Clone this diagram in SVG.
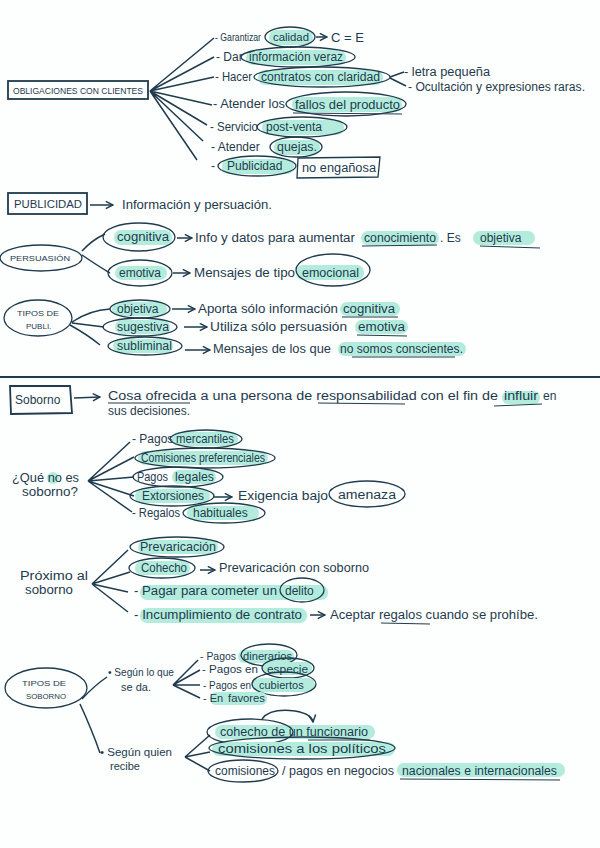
<svg xmlns="http://www.w3.org/2000/svg" width="600" height="848" viewBox="0 0 600 848">
<defs>
<style>
.t{font-family:"Liberation Sans","DejaVu Sans",sans-serif;font-size:12px;fill:#1f3b4d}
.s{font-size:8.5px}
.m{font-size:11px}
.hl{fill:#b3ecdd}
.ov{fill:none;stroke:#1f3b4d;stroke-width:1.3}
.bx{fill:none;stroke:#1f3b4d;stroke-width:1.8}
.ln{fill:none;stroke:#1f3b4d;stroke-width:1.5}
.ul{fill:none;stroke:#1f3b4d;stroke-width:1}
</style>
<marker id="ar" viewBox="0 0 10 10" refX="9" refY="5" markerWidth="6" markerHeight="6" orient="auto">
<path d="M1,1 L9,5 L1,9" fill="none" stroke="#1f3b4d" stroke-width="1.6"/>
</marker>
</defs>
<rect width="600" height="848" fill="#fdfefe"/>

<g id="connectors">
<path class="ln" d="M150,91 L214,38 M150,91 L214,57 M150,91 L214,77 M150,91 L212,105 M150,91 L207,125 M150,91 L203,141 M150,91 L197,160"/>
<path class="ln" d="M316,37 L327,37" marker-end="url(#ar)"/>
<path class="ln" d="M390,77 L404,72 M390,78 L406,86"/>
<path class="ln" d="M90,205 L113,205" marker-end="url(#ar)"/>
<path class="ln" d="M82,251 Q92,240 105,234 M82,255 Q98,266 110,273"/>
<path class="ln" d="M177,238 L192,238" marker-end="url(#ar)"/>
<path class="ln" d="M173,273 L190,273" marker-end="url(#ar)"/>
<path class="ln" d="M72,322 Q90,310 110,309 M72,323 L104,327 M70,325 Q88,335 100,345"/>
<path class="ln" d="M172,309 L195,309" marker-end="url(#ar)"/>
<path class="ln" d="M184,327 L207,327" marker-end="url(#ar)"/>
<path class="ln" d="M185,350 L210,350" marker-end="url(#ar)"/>
<path class="ln" d="M74,398 L100,397" marker-end="url(#ar)"/>
<path class="ln" d="M88,481 L130,442 M88,481 L134,457 M88,481 L134,477 M88,481 L134,496 M88,481 L132,512"/>
<path class="ln" d="M214,497 L232,497" marker-end="url(#ar)"/>
<path class="ln" d="M92,584 L128,550 M92,584 L130,572 M92,584 L128,592 M92,584 L128,612"/>
<path class="ln" d="M200,570 L215,570" marker-end="url(#ar)"/>
<path class="ln" d="M310,615 L325,615" marker-end="url(#ar)"/>
<path class="ln" d="M82,699 Q95,685 107,677 M80,704 Q92,730 100,753"/>
<path class="ln" d="M173,685 L198,660 M173,685 L200,670 M173,685 L200,685 M173,685 L200,698"/>
<path class="ln" d="M185,757 L210,735 M185,757 L210,752 M185,757 L210,771"/>
<path class="ln" d="M262,719 Q270,708 295,711 Q312,714 313,722" marker-end="url(#ar)"/>
</g>

<g id="obligaciones">
<rect class="bx" x="8" y="81" width="140" height="18"/>
<text class="t s" x="13" y="94" textLength="130" lengthAdjust="spacingAndGlyphs">OBLIGACIONES CON CLIENTES</text>
</g>

<g id="garantizar">
<text class="t m" x="215" y="41" textLength="46" lengthAdjust="spacingAndGlyphs">- Garantizar</text>
<rect class="hl" x="269" y="30" width="44" height="15" rx="7"/>
<ellipse class="ov" cx="290" cy="37" rx="25" ry="10"/>
<text class="t m" x="273" y="41" textLength="36" lengthAdjust="spacingAndGlyphs">calidad</text>
<text class="t" x="331" y="42" style="font-size:13px">C = E</text>
</g>

<g id="dar">
<text class="t" x="216" y="61">- Dar</text>
<rect class="hl" x="246" y="50" width="100" height="15" rx="7"/>
<ellipse class="ov" cx="298" cy="57" rx="57" ry="10"/>
<text class="t" x="249" y="61" textLength="94" lengthAdjust="spacingAndGlyphs">información veraz</text>
</g>

<g id="hacer">
<text class="t" x="215" y="81" textLength="37" lengthAdjust="spacingAndGlyphs">- Hacer</text>
<rect class="hl" x="258" y="70" width="125" height="15" rx="7"/>
<ellipse class="ov" cx="322" cy="77" rx="68" ry="10"/>
<text class="t" x="261" y="81" textLength="119" lengthAdjust="spacingAndGlyphs">contratos con claridad</text>
<text class="t" x="404" y="76" textLength="86" lengthAdjust="spacingAndGlyphs">- letra pequeña</text>
<text class="t" x="408" y="91" textLength="177" lengthAdjust="spacingAndGlyphs">- Ocultación y expresiones raras.</text>
</g>

<g id="atender-fallos">
<text class="t" x="213" y="108" textLength="72" lengthAdjust="spacingAndGlyphs">- Atender los</text>
<rect class="hl" x="292" y="97" width="110" height="15" rx="7"/>
<ellipse class="ov" cx="346" cy="104" rx="60" ry="12"/>
<text class="t" x="295" y="109" textLength="105" lengthAdjust="spacingAndGlyphs">fallos del producto</text>
<path class="ul" d="M293,113 L402,114"/>
</g>

<g id="servicio">
<text class="t" x="210" y="131" textLength="48" lengthAdjust="spacingAndGlyphs">- Servicio</text>
<rect class="hl" x="262" y="120" width="82" height="15" rx="7"/>
<ellipse class="ov" cx="302" cy="127" rx="45" ry="10"/>
<text class="t" x="266" y="131">post-venta</text>
</g>

<g id="quejas">
<text class="t" x="211" y="151">- Atender</text>
<rect class="hl" x="274" y="140" width="46" height="15" rx="7"/>
<ellipse class="ov" cx="296" cy="147" rx="26" ry="10"/>
<text class="t" x="277" y="151" textLength="40" lengthAdjust="spacingAndGlyphs">quejas.</text>
</g>

<g id="publicidad-row">
<text class="t" x="211" y="170">-</text>
<rect class="hl" x="222" y="159" width="72" height="15" rx="7"/>
<ellipse class="ov" cx="257" cy="166" rx="39" ry="10"/>
<text class="t" x="227" y="170">Publicidad</text>
<path class="bx" style="stroke-width:1.3" d="M298,158 L380,157 L378,177 L297,178 Z"/>
<text class="t" x="302" y="172" textLength="74" lengthAdjust="spacingAndGlyphs">no engañosa</text>
</g>

<g id="publicidad">
<rect class="bx" x="8" y="193" width="79" height="21"/>
<text class="t" x="14" y="208" style="font-size:10px" textLength="68" lengthAdjust="spacingAndGlyphs">PUBLICIDAD</text>
<text class="t" x="122" y="209" textLength="150" lengthAdjust="spacingAndGlyphs">Información y persuación.</text>
</g>

<g id="persuasion">
<ellipse class="ov" cx="41" cy="258" rx="41" ry="13"/>
<text class="t" x="10" y="261" style="font-size:8px" textLength="60" lengthAdjust="spacingAndGlyphs">PERSUASIÓN</text>
</g>

<g id="cognitiva">
<rect class="hl" x="114" y="230" width="58" height="15" rx="7"/>
<ellipse class="ov" cx="139" cy="237" rx="36" ry="14"/>
<text class="t" x="117" y="241" textLength="52" lengthAdjust="spacingAndGlyphs">cognitiva</text>
<text class="t" x="195" y="242" textLength="160" lengthAdjust="spacingAndGlyphs">Info y datos para aumentar</text>
<rect class="hl" x="361" y="231" width="78" height="14" rx="7"/>
<text class="t" x="364" y="242" textLength="72" lengthAdjust="spacingAndGlyphs">conocimiento</text>
<path class="ul" d="M362,246 L437,245"/>
<text class="t" x="440" y="242">. Es</text>
<rect class="hl" x="473" y="231" width="62" height="14" rx="7"/>
<text class="t" x="480" y="242">objetiva</text>
<path class="ul" d="M480,246 L540,248"/>
</g>

<g id="emotiva">
<rect class="hl" x="115" y="266" width="52" height="14" rx="7"/>
<ellipse class="ov" cx="140" cy="273" rx="32" ry="13"/>
<text class="t" x="119" y="277">emotiva</text>
<text class="t" x="194" y="277" textLength="101" lengthAdjust="spacingAndGlyphs">Mensajes de tipo</text>
<rect class="hl" x="296" y="265" width="68" height="15" rx="7"/>
<ellipse class="ov" cx="333" cy="270" rx="37" ry="16"/>
<text class="t" x="302" y="277" textLength="57" lengthAdjust="spacingAndGlyphs">emocional</text>
</g>

<g id="tipos-publi">
<ellipse class="ov" cx="38" cy="318" rx="34" ry="18"/>
<text class="t" x="17" y="316" style="font-size:8px" textLength="42" lengthAdjust="spacingAndGlyphs">TIPOS DE</text>
<text class="t" x="26" y="329" style="font-size:8px">PUBLI.</text>
</g>

<g id="objetiva">
<rect class="hl" x="112" y="302" width="55" height="14" rx="7"/>
<ellipse class="ov" cx="140" cy="309" rx="30" ry="9"/>
<text class="t" x="117" y="313">objetiva</text>
<text class="t" x="198" y="313" textLength="140" lengthAdjust="spacingAndGlyphs">Aporta sólo información</text>
<rect class="hl" x="340" y="302" width="60" height="14" rx="7"/>
<text class="t" x="343" y="313" textLength="52" lengthAdjust="spacingAndGlyphs">cognitiva</text>
<path class="ul" d="M342,317 L398,317"/>
</g>

<g id="sugestiva">
<rect class="hl" x="115" y="320" width="55" height="14" rx="7"/>
<ellipse class="ov" cx="140" cy="327" rx="37" ry="9"/>
<text class="t" x="117" y="331" textLength="52" lengthAdjust="spacingAndGlyphs">sugestiva</text>
<text class="t" x="210" y="331" textLength="137" lengthAdjust="spacingAndGlyphs">Utiliza sólo persuasión</text>
<rect class="hl" x="355" y="320" width="53" height="14" rx="7"/>
<text class="t" x="358" y="331" textLength="47" lengthAdjust="spacingAndGlyphs">emotiva</text>
<path class="ul" d="M357,335 L407,336"/>
</g>

<g id="subliminal">
<rect class="hl" x="113" y="339" width="60" height="14" rx="7"/>
<ellipse class="ov" cx="145" cy="346" rx="37" ry="9"/>
<text class="t" x="117" y="350" textLength="55" lengthAdjust="spacingAndGlyphs">subliminal</text>
<text class="t" x="213" y="353" textLength="118" lengthAdjust="spacingAndGlyphs">Mensajes de los que</text>
<rect class="hl" x="338" y="342" width="128" height="14" rx="7"/>
<text class="t" x="340" y="353" textLength="123" lengthAdjust="spacingAndGlyphs">no somos conscientes.</text>
<path class="ul" d="M352,357 L455,357"/>
</g>

<path d="M0,377 L600,377" stroke="#1f3b4d" stroke-width="2"/>

<g id="soborno">
<path class="bx" d="M10,386 L70,386 L72,413 L11,414 Z"/>
<text class="t" x="15" y="404">Soborno</text>
<text class="t" x="108" y="400" textLength="390" lengthAdjust="spacingAndGlyphs">Cosa ofrecida a una persona de responsabilidad con el fin de</text>
<path class="ul" d="M108,403 L190,403 M318,403 L405,404"/>
<rect class="hl" x="502" y="391" width="38" height="13" rx="6"/>
<text class="t" x="504" y="400" textLength="34" lengthAdjust="spacingAndGlyphs">influir</text>
<path class="ul" d="M494,406 L542,404"/>
<text class="t" x="543" y="400">en</text>
<text class="t" x="108" y="415" textLength="82" lengthAdjust="spacingAndGlyphs">sus decisiones.</text>
</g>

<g id="que-no-es">
<circle class="hl" cx="53" cy="478" r="6"/>
<text class="t" x="12" y="482" textLength="67" lengthAdjust="spacingAndGlyphs">¿Qué no es</text>
<text class="t" x="22" y="496" textLength="56" lengthAdjust="spacingAndGlyphs">soborno?</text>
</g>

<g id="mercantiles">
<text class="t" x="132" y="443">- Pagos</text>
<rect class="hl" x="172" y="432" width="66" height="14" rx="7"/>
<ellipse class="ov" cx="206" cy="439" rx="36" ry="9"/>
<text class="t" x="176" y="443" textLength="58" lengthAdjust="spacingAndGlyphs">mercantiles</text>
</g>

<g id="comisiones-pref">
<rect class="hl" x="138" y="451" width="130" height="14" rx="7"/>
<ellipse class="ov" cx="205" cy="458" rx="70" ry="10"/>
<text class="t" x="141" y="462" textLength="124" lengthAdjust="spacingAndGlyphs">Comisiones preferenciales</text>
</g>

<g id="pagos-legales">
<rect class="hl" x="172" y="470" width="44" height="14" rx="7"/>
<ellipse class="ov" cx="178" cy="477" rx="45" ry="10"/>
<text class="t" x="137" y="481" textLength="31" lengthAdjust="spacingAndGlyphs">Pagos</text>
<text class="t" x="175" y="481" textLength="39" lengthAdjust="spacingAndGlyphs">legales</text>
</g>

<g id="extorsiones">
<rect class="hl" x="135" y="489" width="75" height="14" rx="7"/>
<ellipse class="ov" cx="172" cy="496" rx="42" ry="10"/>
<text class="t" x="142" y="500" textLength="62" lengthAdjust="spacingAndGlyphs">Extorsiones</text>
<text class="t" x="238" y="500" textLength="90" lengthAdjust="spacingAndGlyphs">Exigencia bajo</text>
<ellipse class="ov" cx="367" cy="494" rx="38" ry="13"/>
<text class="t" x="338" y="499" textLength="58" lengthAdjust="spacingAndGlyphs">amenaza</text>
</g>

<g id="regalos">
<text class="t" x="132" y="517" textLength="48" lengthAdjust="spacingAndGlyphs">- Regalos</text>
<rect class="hl" x="187" y="506" width="72" height="14" rx="7"/>
<ellipse class="ov" cx="224" cy="513" rx="41" ry="10"/>
<text class="t" x="193" y="517">habituales</text>
</g>

<g id="proximo">
<text class="t" x="20" y="580" textLength="68" lengthAdjust="spacingAndGlyphs">Próximo al</text>
<text class="t" x="25" y="594" textLength="48" lengthAdjust="spacingAndGlyphs">soborno</text>
</g>

<g id="prevaricacion">
<rect class="hl" x="138" y="540" width="80" height="14" rx="7"/>
<ellipse class="ov" cx="177" cy="547" rx="47" ry="10"/>
<text class="t" x="140" y="551" textLength="76" lengthAdjust="spacingAndGlyphs">Prevaricación</text>
</g>

<g id="cohecho">
<rect class="hl" x="135" y="561" width="55" height="14" rx="7"/>
<ellipse class="ov" cx="162" cy="568" rx="33" ry="10"/>
<text class="t" x="141" y="572" textLength="46" lengthAdjust="spacingAndGlyphs">Cohecho</text>
<text class="t" x="219" y="572" textLength="150" lengthAdjust="spacingAndGlyphs">Prevaricación con soborno</text>
</g>

<g id="pagar-delito">
<rect class="hl" x="140" y="585" width="188" height="15" rx="7"/>
<text class="t" x="134" y="595" textLength="143" lengthAdjust="spacingAndGlyphs">- Pagar para cometer un</text>
<ellipse class="ov" cx="302" cy="590" rx="22" ry="12"/>
<text class="t" x="285" y="595">delito</text>
</g>

<g id="incumplimiento">
<rect class="hl" x="140" y="608" width="167" height="15" rx="7"/>
<text class="t" x="134" y="619" textLength="168" lengthAdjust="spacingAndGlyphs">- Incumplimiento de contrato</text>
<text class="t" x="330" y="619" textLength="208" lengthAdjust="spacingAndGlyphs">Aceptar regalos cuando se prohíbe.</text>
<path class="ul" d="M381,623 L430,624"/>
</g>

<g id="tipos-soborno">
<ellipse class="ov" cx="46" cy="688" rx="41" ry="20"/>
<text class="t" x="22" y="686" style="font-size:8px" textLength="44" lengthAdjust="spacingAndGlyphs">TIPOS DE</text>
<text class="t" x="26" y="699" style="font-size:8px" textLength="40" lengthAdjust="spacingAndGlyphs">SOBORNO</text>
</g>

<g id="segun-da">
<text class="t m" x="108" y="676" textLength="66" lengthAdjust="spacingAndGlyphs">• Según lo que</text>
<text class="t m" x="121" y="691">se da.</text>
</g>

<g id="dinerarios">
<text class="t m" x="200" y="660" textLength="36" lengthAdjust="spacingAndGlyphs">- Pagos</text>
<rect class="hl" x="238" y="650" width="56" height="13" rx="6"/>
<ellipse class="ov" cx="269" cy="655" rx="28" ry="11"/>
<text class="t m" x="243" y="660" textLength="49" lengthAdjust="spacingAndGlyphs">dinerarios</text>
</g>

<g id="especie">
<text class="t m" x="202" y="673" textLength="56" lengthAdjust="spacingAndGlyphs">- Pagos en</text>
<rect class="hl" x="262" y="662" width="50" height="13" rx="6"/>
<ellipse class="ov" cx="288" cy="668" rx="26" ry="10"/>
<text class="t m" x="267" y="673" textLength="41" lengthAdjust="spacingAndGlyphs">especie</text>
</g>

<g id="encubiertos">
<text class="t m" x="203" y="689" textLength="48" lengthAdjust="spacingAndGlyphs">- Pagos en</text>
<rect class="hl" x="253" y="678" width="62" height="14" rx="7"/>
<ellipse class="ov" cx="284" cy="684" rx="32" ry="12"/>
<text class="t m" x="259" y="689">cubiertos</text>
</g>

<g id="favores">
<rect class="hl" x="210" y="692" width="57" height="13" rx="6"/>
<text class="t m" x="203" y="702">- En</text>
<text class="t m" x="228" y="702" textLength="37" lengthAdjust="spacingAndGlyphs">favores</text>
</g>

<g id="segun-recibe">
<text class="t m" x="100" y="756" textLength="72" lengthAdjust="spacingAndGlyphs">• Según quien</text>
<text class="t m" x="110" y="770">recibe</text>
</g>

<g id="funcionario">
<rect class="hl" x="215" y="725" width="160" height="14" rx="7"/>
<ellipse class="ov" cx="250" cy="732" rx="43" ry="13"/>
<text class="t" x="220" y="736" textLength="148" lengthAdjust="spacingAndGlyphs">cohecho de un funcionario</text>
<path class="ul" d="M308,740 L370,740"/>
</g>

<g id="politicos">
<rect class="hl" x="212" y="742" width="183" height="14" rx="7"/>
<ellipse class="ov" cx="302" cy="748" rx="93" ry="11"/>
<text class="t" x="218" y="753" textLength="168" lengthAdjust="spacingAndGlyphs">comisiones a los políticos</text>
</g>

<g id="negocios">
<ellipse class="ov" cx="243" cy="771" rx="35" ry="11"/>
<text class="t" x="215" y="775" textLength="60" lengthAdjust="spacingAndGlyphs">comisiones</text>
<text class="t" x="282" y="775" textLength="112" lengthAdjust="spacingAndGlyphs">/ pagos en negocios</text>
<rect class="hl" x="397" y="763" width="168" height="14" rx="7"/>
<text class="t" x="402" y="775" textLength="155" lengthAdjust="spacingAndGlyphs">nacionales e internacionales</text>
<path class="ul" d="M400,779 L560,780"/>
</g>
</svg>
